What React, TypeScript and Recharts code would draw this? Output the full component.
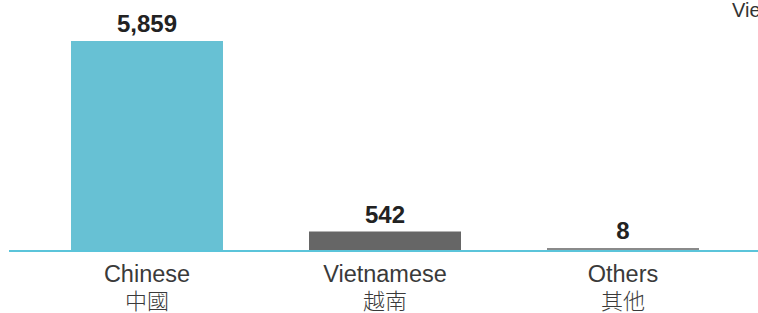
import React from "react";
import { BarChart, Bar, XAxis, YAxis, Cell, LabelList } from "recharts";

const categories = ["Chinese", "Vietnamese", "Others"];
const categoriesZh = ["中國", "越南", "其他"];
const values = [5859, 542, 8];
const colors = ["#67C1D4", "#666666", "#8A8A8A"];
const legendText = "Vietnamese";

const data = categories.map((c, i) => ({ name: c, zh: categoriesZh[i], value: values[i] }));

const FONT = "'Liberation Sans', Arial, Helvetica, sans-serif";

const Tick = (props: any) => {
  const { x, payload } = props;
  const idx = categories.indexOf(payload.value);
  return (
    <g transform={`translate(${x},251)`}>
      <text x={0} y={30.5} textAnchor="middle" fontFamily={FONT} fontSize={23.5} fill="#3a3a3a">
        {payload.value}
      </text>
      <text x={0} y={58} textAnchor="middle" fontFamily="'Noto Sans CJK TC', sans-serif" fontSize={22} fontWeight={300} fill="#3a3a3a">
        {categoriesZh[idx]}
      </text>
    </g>
  );
};

export default function App() {
  return (
    <div style={{ position: "absolute", left: 0, top: 0, width: 758, height: 313, overflow: "hidden", background: "#fff" }}>
      <BarChart width={758} height={313} data={data} margin={{ top: 0, right: 0, bottom: 0, left: 9 }}>
        <YAxis hide domain={[0, 7000]} />
        <XAxis
          dataKey="name"
          height={62}
          padding={{ left: 19, right: 16 }}
          axisLine={{ stroke: "#5BC4DA", strokeWidth: 2 }}
          tickLine={false}
          tick={<Tick />}
          interval={0}
        />
        <Bar dataKey="value" isAnimationActive={false} minPointSize={3} barSize={152}>
          {data.map((d, i) => (
            <Cell key={d.name} fill={colors[i]} />
          ))}
          <LabelList
            dataKey="value"
            position="top"
            offset={9}
            formatter={(v: any) => Number(v).toLocaleString("en-US")}
            style={{ fontFamily: FONT, fontSize: 24, fontWeight: 700, fill: "#222" }}
          />
        </Bar>
        <text x={732} y={17} fontFamily={FONT} fontSize={20} fill="#333">{legendText}</text>
      </BarChart>
    </div>
  );
}
